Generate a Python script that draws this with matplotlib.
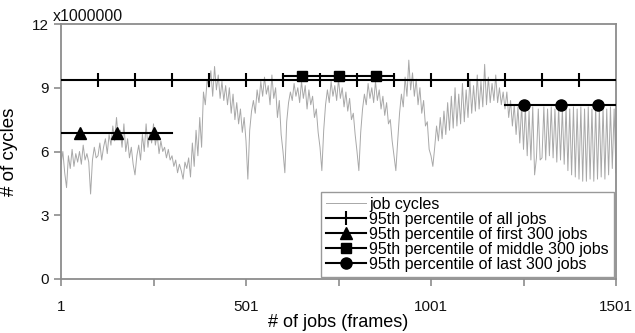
import numpy as np
import matplotlib
matplotlib.use("Agg")
import matplotlib.pyplot as plt

plt.rcParams['font.family'] = ['Liberation Sans', 'DejaVu Sans']

# job cycles (millions), one value every 5 frames
job_cycles = [
    5.4, 6.0, 5.0, 4.3, 5.8, 5.2, 6.1, 5.3, 5.9, 5.5,
    6.0, 5.4, 6.3, 5.6, 5.9, 5.5, 4.0, 5.6, 6.2, 5.7,
    5.8, 6.4, 5.6, 6.2, 6.6, 5.9, 6.8, 6.3, 7.2, 6.5,
    7.6, 6.6, 7.0, 6.2, 7.3, 6.0, 6.6, 5.7, 6.2, 5.4,
    4.9, 5.8, 6.3, 5.6, 6.8, 6.0, 7.3, 6.2, 6.9, 6.4,
    7.3, 6.3, 6.8, 5.9, 6.5, 6.0, 6.2, 5.7, 6.1, 5.6,
    5.8, 5.3, 5.6, 5.0, 5.4, 5.1, 4.7, 5.5, 5.2, 5.7,
    4.8, 6.4, 5.3, 7.0, 5.8, 7.6, 6.2, 8.8, 8.2, 9.4,
    9.0, 9.8, 8.6, 10.0, 8.9, 9.6, 8.5, 9.3, 8.4, 9.1,
    8.2, 9.0, 7.8, 8.7, 7.5, 8.3, 7.3, 8.0, 6.9, 7.6,
    6.5, 4.7, 7.0, 7.9, 8.4, 7.8, 8.9, 8.3, 9.3, 8.6,
    9.5, 8.7, 9.1, 8.2, 9.6, 8.5, 9.0, 7.6, 8.4, 6.8,
    6.0, 5.0, 7.4, 8.3, 8.8, 8.4, 9.2, 8.6, 9.0, 8.3,
    9.3, 8.5, 9.1, 8.0, 8.9, 8.2, 8.6, 7.6, 8.0, 6.9,
    6.2, 5.1, 7.0, 8.2, 8.9, 8.3, 9.3, 8.6, 9.1, 8.4,
    9.4, 8.5, 9.0, 8.1, 8.8, 7.9, 8.5, 7.5, 7.8, 6.8,
    6.0, 5.1, 6.9, 8.0, 8.7, 8.2, 9.2, 8.5, 9.0, 8.3,
    9.3, 8.4, 8.9, 8.0, 8.6, 7.7, 8.3, 7.3, 7.5, 6.5,
    5.8, 5.1, 6.5, 7.8, 8.7, 8.1, 9.5, 8.6, 10.3, 8.9,
    9.7, 8.6, 9.4, 8.2, 9.0, 7.8, 8.4, 7.2, 7.4, 6.1,
    5.8, 5.3, 6.2, 7.2, 6.5, 7.6, 6.6, 7.9, 6.8, 8.3,
    7.0, 8.6, 7.1, 9.0, 7.2, 8.7, 7.3, 9.2, 7.4, 8.9,
    7.6, 9.4, 7.8, 9.1, 7.9, 9.6, 8.0, 9.3, 8.1, 10.1,
    8.2, 9.5, 8.3, 9.2, 8.4, 9.6, 8.3, 9.0, 8.2, 8.8,
    8.0, 8.8, 7.6, 8.4, 7.2, 8.2, 6.8, 8.1, 6.4, 8.2,
    6.1, 8.1, 5.8, 7.9, 5.6, 8.1, 4.9, 5.7, 8.0, 5.6,
    5.7, 8.1, 5.6, 8.0, 5.8, 8.1, 5.7, 8.0, 5.5, 8.1,
    5.6, 8.0, 5.4, 8.1, 5.1, 8.0, 4.9, 8.1, 4.8, 8.0,
    4.7, 8.1, 4.6, 8.0, 4.6, 8.1, 4.7, 8.0, 4.6, 8.1,
    4.7, 8.0, 4.8, 8.1, 4.7, 8.0, 4.9, 8.1, 5.2, 8.0,
    5.0,
]
frames = np.arange(1, 1 + 5 * len(job_cycles), 5)

# 95th percentile levels (millions)
p95_all = 9.35
p95_first = 6.87
p95_middle = 9.55
p95_last = 8.19

all_x = list(range(1, 1502, 100))
first_x = [1, 51, 151, 251, 301]
middle_x = [601, 651, 751, 851, 901]
last_x = [1201, 1251, 1351, 1451, 1501]

x_major = [1, 501, 1001, 1501]
x_minor = [251, 751, 1251]
y_ticks = [0, 3, 6, 9, 12]

fig = plt.figure(figsize=(6.35, 3.33), dpi=100)
ax = fig.add_axes([61 / 635, 1 - 279 / 333, 555 / 635, 255 / 333])

ax.plot(frames, job_cycles, color='#a8a8a8', lw=0.7, label='job cycles', zorder=1)
ax.plot(all_x, [p95_all] * len(all_x), color='black', lw=1.5, marker='|',
        markersize=10, markeredgewidth=1.5, markevery=slice(1, len(all_x) - 1),
        label='95th percentile of all jobs', zorder=3)
ax.plot(first_x, [p95_first] * len(first_x), color='black', lw=1.5, marker='^',
        markersize=8, markevery=[1, 2, 3], label='95th percentile of first 300 jobs', zorder=3)
ax.plot(middle_x, [p95_middle] * len(middle_x), color='black', lw=1.5, marker='s',
        markersize=7, markevery=[1, 2, 3], label='95th percentile of middle 300 jobs', zorder=3)
ax.plot(last_x, [p95_last] * len(last_x), color='black', lw=1.5, marker='o',
        markersize=8, markevery=[1, 2, 3], label='95th percentile of last 300 jobs', zorder=3)

ax.set_xlim(1, 1501)
ax.set_ylim(0, 12)
ax.set_xticks(x_major)
ax.set_xticks(x_minor, minor=True)
ax.set_yticks(y_ticks)
ax.set_yticklabels([str(v) for v in y_ticks])

for s in ax.spines.values():
    s.set_color('#8c8c8c')
    s.set_linewidth(1.3)

ax.tick_params(axis='both', which='both', direction='out', length=5, width=1.2,
               color='#8c8c8c', labelsize=11, labelcolor='#111111')
ax.tick_params(axis='x', which='major', pad=10)
ax.tick_params(axis='y', which='major', pad=4)

ax.set_xlabel('# of jobs (frames)', fontsize=13, labelpad=0)
ax.set_ylabel('# of cycles', fontsize=13.5, labelpad=10)
ax.text(-0.014, 1.0, 'x1000000', transform=ax.transAxes, fontsize=11.5,
        ha='left', va='bottom', color='#111111')

leg = ax.legend(loc='lower right', fontsize=11.5, frameon=True, fancybox=False,
                edgecolor='#999999', framealpha=1, labelspacing=0.0,
                handlelength=2.5, handletextpad=0.2, borderpad=0.3,
                borderaxespad=0.15, numpoints=1)
leg.get_frame().set_linewidth(1.0)

fig.savefig('out.png', dpi=100)
